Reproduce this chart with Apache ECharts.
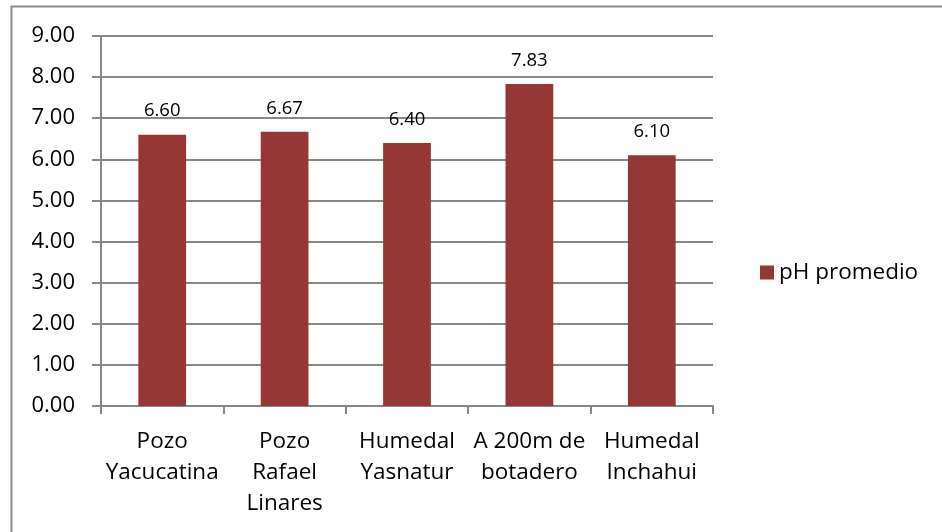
<!DOCTYPE html>
<html>
<head>
<meta charset="utf-8">
<script src="https://cdn.jsdelivr.net/npm/echarts@6/dist/echarts.min.js"></script>
<style>
  html, body { margin: 0; padding: 0; background: #fff; }
  #chart { width: 942px; height: 532px; }
</style>
</head>
<body>
<div id="chart"></div>
<script>
// Average pH by sampling site
const categories = ['Pozo\nYacucatina', 'Pozo\nRafael\nLinares', 'Humedal\nYasnatur', 'A 200m de\nbotadero', 'Humedal\nInchahui'];
const phValues = [6.60, 6.67, 6.40, 7.83, 6.10];
const seriesName = 'pH promedio';
const yTicks = { min: 0, max: 9, interval: 1 };

const font = '"Open Sans", "Noto Sans", sans-serif';
const gridColor = '#878787';

const chart = echarts.init(document.getElementById('chart'));
chart.setOption({
  animation: false,
  backgroundColor: '#fff',
  graphic: [{
    type: 'rect',
    shape: { x: 11.5, y: 6.5, width: 960, height: 560 },
    style: { fill: 'none', stroke: '#8c8c8c', lineWidth: 2 },
    silent: true,
    z: -1
  }],
  legend: {
    left: 755,
    top: 256,
    itemWidth: 14,
    itemHeight: 14,
    itemGap: 8,
    icon: 'rect',
    textStyle: { fontFamily: font, fontSize: 22.5, color: '#000' },
    data: [seriesName]
  },
  grid: { left: 101, top: 36, width: 612, height: 370, containLabel: false },
  xAxis: {
    type: 'category',
    data: categories,
    axisLine: { lineStyle: { color: gridColor, width: 2 } },
    axisTick: { show: true, length: 8, alignWithLabel: false, lineStyle: { color: gridColor, width: 2 } },
    axisLabel: {
      fontFamily: font, fontSize: 22.5, color: '#000',
      lineHeight: 31, margin: 20, interval: 0
    }
  },
  yAxis: {
    type: 'value',
    min: yTicks.min,
    max: yTicks.max,
    interval: yTicks.interval,
    axisLine: { show: true, lineStyle: { color: gridColor, width: 2 } },
    axisTick: { show: true, length: 9, lineStyle: { color: gridColor, width: 2 } },
    splitLine: { lineStyle: { color: gridColor, width: 2 } },
    axisLabel: {
      fontFamily: font, fontSize: 22, color: '#000', margin: 26,
      formatter: v => v.toFixed(2)
    }
  },
  series: [{
    name: seriesName,
    type: 'bar',
    data: phValues,
    barWidth: '39%',
    itemStyle: { color: '#953735' },
    label: {
      show: true,
      position: 'top',
      distance: 14,
      fontFamily: font,
      fontSize: 18.5,
      color: '#000',
      formatter: p => p.value.toFixed(2)
    }
  }]
});
</script>
</body>
</html>
